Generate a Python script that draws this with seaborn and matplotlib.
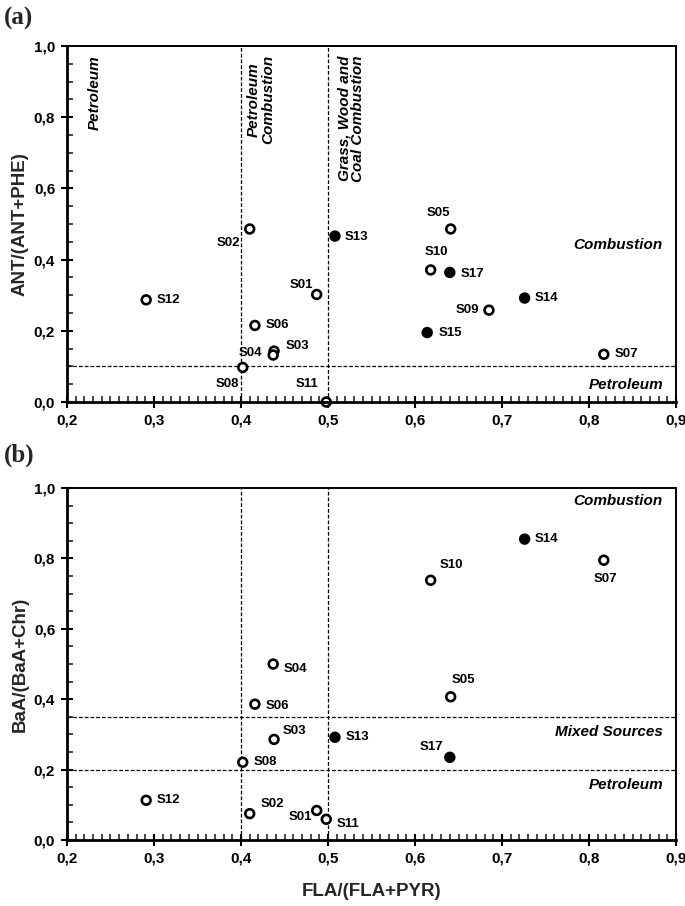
import matplotlib
matplotlib.use("Agg")
import matplotlib.pyplot as plt
from matplotlib import font_manager
from matplotlib.ticker import MultipleLocator, FuncFormatter
import numpy as np
import pandas as pd
import seaborn as sns

# ---------------- data ----------------
samples = ["S01", "S02", "S03", "S04", "S05", "S06", "S07", "S08", "S09",
           "S10", "S11", "S12", "S13", "S14", "S15", "S17"]
fla_pyr = [0.487, 0.410, 0.438, 0.437, 0.641, 0.416, 0.817, 0.402, 0.685,
           0.618, 0.498, 0.291, 0.508, 0.726, 0.614, 0.640]
ant_phe = [0.302, 0.486, 0.143, 0.132, 0.486, 0.215, 0.134, 0.097, 0.258,
           0.371, 0.000, 0.287, 0.466, 0.292, 0.195, 0.364]
baa_chr = [0.084, 0.075, 0.286, 0.500, 0.407, 0.386, 0.795, 0.221, np.nan,
           0.738, 0.059, 0.113, 0.292, 0.855, np.nan, 0.235]
marker_type = ["open", "open", "open", "open", "open", "open", "open", "open", "open",
               "open", "open", "open", "filled", "filled", "filled", "filled"]

# label placement (offset in pixels, horizontal alignment)
lab_a = {"S01": (-4, 9, "right"), "S02": (-10, -14, "right"), "S03": (12, 5, "left"),
         "S04": (-11, 2, "right"), "S05": (-12, 16, "center"), "S06": (11, 0, "left"),
         "S07": (11, 0, "left"), "S08": (-4, -17, "right"), "S09": (-10, 0, "right"),
         "S10": (6, 18, "center"), "S11": (-8, 18, "right"), "S12": (11, 0, "left"),
         "S13": (10, -1, "left"), "S14": (10, 0, "left"), "S15": (11, 0, "left"),
         "S17": (11, -2, "left")}
lab_b = {"S01": (-5, -7, "right"), "S02": (11, 10, "left"), "S03": (9, 8, "left"),
         "S04": (10, -5, "left"), "S05": (13, 17, "center"), "S06": (11, -2, "left"),
         "S07": (2, -19, "center"), "S08": (11, 0, "left"), "S10": (9, 15, "left"),
         "S11": (10, -5, "left"), "S12": (11, 0, "left"), "S13": (11, 0, "left"),
         "S14": (10, 0, "left"), "S17": (-7, 10, "right")}

df = pd.DataFrame({"sample": samples, "fla": fla_pyr, "ant": ant_phe,
                   "baa": baa_chr, "kind": marker_type})

# ---------------- style ----------------
sns.set_theme(style="ticks")
names = {f.name for f in font_manager.fontManager.ttflist}
narrow = "Liberation Sans Narrow" if "Liberation Sans Narrow" in names else "Liberation Sans"
plt.rcParams["font.family"] = [narrow, "DejaVu Sans"]
plt.rcParams["font.weight"] = "bold"

fig = plt.figure(figsize=(6.85, 9.06), dpi=100)
ax1 = fig.add_axes([0.0978, 0.5563, 0.8891, 0.3929])
ax2 = fig.add_axes([0.0978, 0.0728, 0.8891, 0.3885])

comma = FuncFormatter(lambda v, p: f"{v:.1f}".replace(".", ","))
dash = dict(color="black", lw=0.9, ls=(0, (3, 1.6)), zorder=1)
pal = {"open": "white", "filled": "black"}


def style_axes(ax):
    ax.set_xlim(0.2, 0.9)
    ax.set_ylim(0.0, 1.0)
    ax.xaxis.set_major_locator(MultipleLocator(0.1))
    ax.xaxis.set_minor_locator(MultipleLocator(0.01))
    ax.yaxis.set_major_locator(MultipleLocator(0.2))
    ax.yaxis.set_minor_locator(MultipleLocator(0.05))
    ax.xaxis.set_major_formatter(comma)
    ax.yaxis.set_major_formatter(comma)
    ax.tick_params(which="major", direction="inout", length=9, width=1.5,
                   labelsize=11, pad=4, colors="black")
    ax.tick_params(which="minor", direction="in", length=4.5, width=1.2)
    for s in ["left", "bottom"]:
        ax.spines[s].set_linewidth(2.0)
    for s in ["top", "right"]:
        ax.spines[s].set_linewidth(1.4)
    for s in ax.spines.values():
        s.set_color("black")
        s.set_zorder(5)
    for lab in ax.get_xticklabels() + ax.get_yticklabels():
        lab.set_fontweight("bold")


def draw_points(ax, ycol, labels):
    d = df.dropna(subset=[ycol])
    sns.scatterplot(data=d, x="fla", y=ycol, hue="kind", palette=pal, ax=ax,
                    s=40, edgecolor="black", linewidth=1.9, legend=False,
                    zorder=4, clip_on=False)
    for _, r in d.iterrows():
        dx, dy, ha = labels[r["sample"]]
        ax.annotate(r["sample"], (r["fla"], r[ycol]), xytext=(dx, dy),
                    textcoords="offset pixels", ha=ha, va="center",
                    fontsize=9.5, fontweight="bold", color="black")


# ---------------- panel (a) ----------------
ax1.axvline(0.4, **dash)
ax1.axvline(0.5, **dash)
ax1.axhline(0.1, **dash)
draw_points(ax1, "ant", lab_a)
style_axes(ax1)
ax1.set_xlabel("")
ax1.set_ylabel("ANT/(ANT+PHE)", fontsize=13.5, fontweight="bold", labelpad=4)
it = dict(fontsize=11, fontstyle="italic", fontweight="bold", color="black")
ax1.text(0.232, 0.975, "Petroleum", rotation=90, ha="center", va="top", **it)
ax1.text(0.423, 0.975, "Petroleum\nCombustion", rotation=90, ha="center", va="top",
         linespacing=1.0, **it)
ax1.text(0.527, 0.975, "Grass, Wood and\nCoal Combustion", rotation=90, ha="center",
         va="top", linespacing=1.0, **it)
ax1.text(0.885, 0.44, "Combustion", ha="right", va="center", **it)
ax1.text(0.885, 0.048, "Petroleum", ha="right", va="center", **it)

# ---------------- panel (b) ----------------
ax2.axvline(0.4, **dash)
ax2.axvline(0.5, **dash)
ax2.axhline(0.35, **dash)
ax2.axhline(0.2, **dash)
draw_points(ax2, "baa", lab_b)
style_axes(ax2)
ax2.set_xlabel("FLA/(FLA+PYR)", fontsize=13.5, fontweight="bold", labelpad=12)
ax2.set_ylabel("BaA/(BaA+Chr)", fontsize=13.5, fontweight="bold", labelpad=4)
ax2.text(0.885, 0.963, "Combustion", ha="right", va="center", **it)
ax2.text(0.885, 0.307, "Mixed Sources", ha="right", va="center", **it)
ax2.text(0.885, 0.156, "Petroleum", ha="right", va="center", **it)

serif = dict(fontsize=18, fontweight="bold", family=["Liberation Serif", "DejaVu Serif"])
fig.text(0.006, 0.980, "(a)", ha="left", va="center", **serif)
fig.text(0.006, 0.497, "(b)", ha="left", va="center", **serif)

fig.savefig("out.png", dpi=100)
